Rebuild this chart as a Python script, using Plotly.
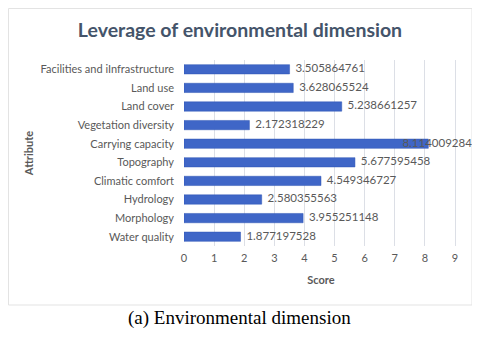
import plotly.graph_objects as go

attributes = [
    "Water quality",
    "Morphology",
    "Hydrology",
    "Climatic comfort",
    "Topography",
    "Carrying capacity",
    "Vegetation diversity",
    "Land cover",
    "Land use",
    "Facilities and iInfrastructure",
]
scores = [
    1.877197528,
    3.955251148,
    2.580355563,
    4.549346727,
    5.677595458,
    8.114009284,
    2.172318229,
    5.238661257,
    3.628065524,
    3.505864761,
]
score_ticks = list(range(0, 10))

label_text = ["  " + f"{v:.9f}" for v in scores]
# the longest bar's label sits over its end, as in the source chart
label_pos = ["middle center" if v == max(scores) else "middle right" for v in scores]
label_text = [("    " + t) if p == "middle center" else t for t, p in zip(label_text, label_pos)]

# page body has an 8px margin, so the figure is drawn 8px in from the window corner
OFF = 8
W, H = 480 - OFF, 337 - OFF
L, T = 184 - OFF, 60 - OFF
R = W - (458 - OFF)
B = H - (246 - OFF)
pw, ph = W - L - R, H - T - B


def px_x(x):
    return (x - OFF - L) / pw


def px_y(y):
    return (H - B - (y - OFF)) / ph


fig = go.Figure()
fig.add_trace(go.Bar(
    x=scores, y=attributes, orientation="h",
    marker=dict(color="#3F66C7", line=dict(color="#2F55B5", width=0.5)),
    hoverinfo="x+y",
))
fig.add_trace(go.Scatter(
    x=scores, y=attributes, mode="text",
    text=label_text, textposition=label_pos,
    textfont=dict(family="Lato", size=11.5, color="#595959"),
    cliponaxis=False, hoverinfo="skip", showlegend=False,
))

fig.update_layout(
    width=W, height=H,
    margin=dict(l=L, r=R, t=T, b=B, autoexpand=False),
    paper_bgcolor="white", plot_bgcolor="white",
    showlegend=False,
    bargap=0.5,
    font=dict(family="Lato", color="#595959", size=11),
    title=dict(
        text="<b>Leverage of environmental dimension</b>",
        x=px_x(240) * pw / W + L / W, xanchor="center",
        y=1 - (30 - OFF) / H, yanchor="middle",
        font=dict(family="Lato", size=19.5, color="#44546A"),
    ),
    xaxis=dict(
        range=[0, 9 * pw / (455 - 184)], tickvals=score_ticks, showgrid=True,
        gridcolor="#DCDFE6", gridwidth=1, zeroline=False,
        ticks="", ticklabelstandoff=4, automargin=False,
        tickfont=dict(size=11, color="#595959"),
        title=dict(text="<b>Score</b>", font=dict(size=11, color="#595959"), standoff=13),
    ),
    yaxis=dict(
        categoryorder="array", categoryarray=attributes,
        showgrid=False, ticks="", showline=False,
        ticklabelstandoff=9, automargin=False,
        tickfont=dict(size=11, color="#595959"),
        title=dict(text="<b>Attribute</b>", font=dict(size=11, color="#595959"), standoff=4),
    ),
    shapes=[
        dict(type="rect", xref="paper", yref="paper",
             x0=px_x(8.5), x1=px_x(472), y0=px_y(305), y1=px_y(8.5),
             line=dict(color="#E3E3E3", width=1), layer="below"),
    ],
    annotations=[
        dict(text="(a) Environmental dimension", xref="paper", yref="paper",
             x=px_x(239), y=px_y(318), xanchor="center", yanchor="middle",
             showarrow=False,
             font=dict(family="Liberation Serif", size=19, color="black")),
    ],
)

fig.write_html("out.html")
